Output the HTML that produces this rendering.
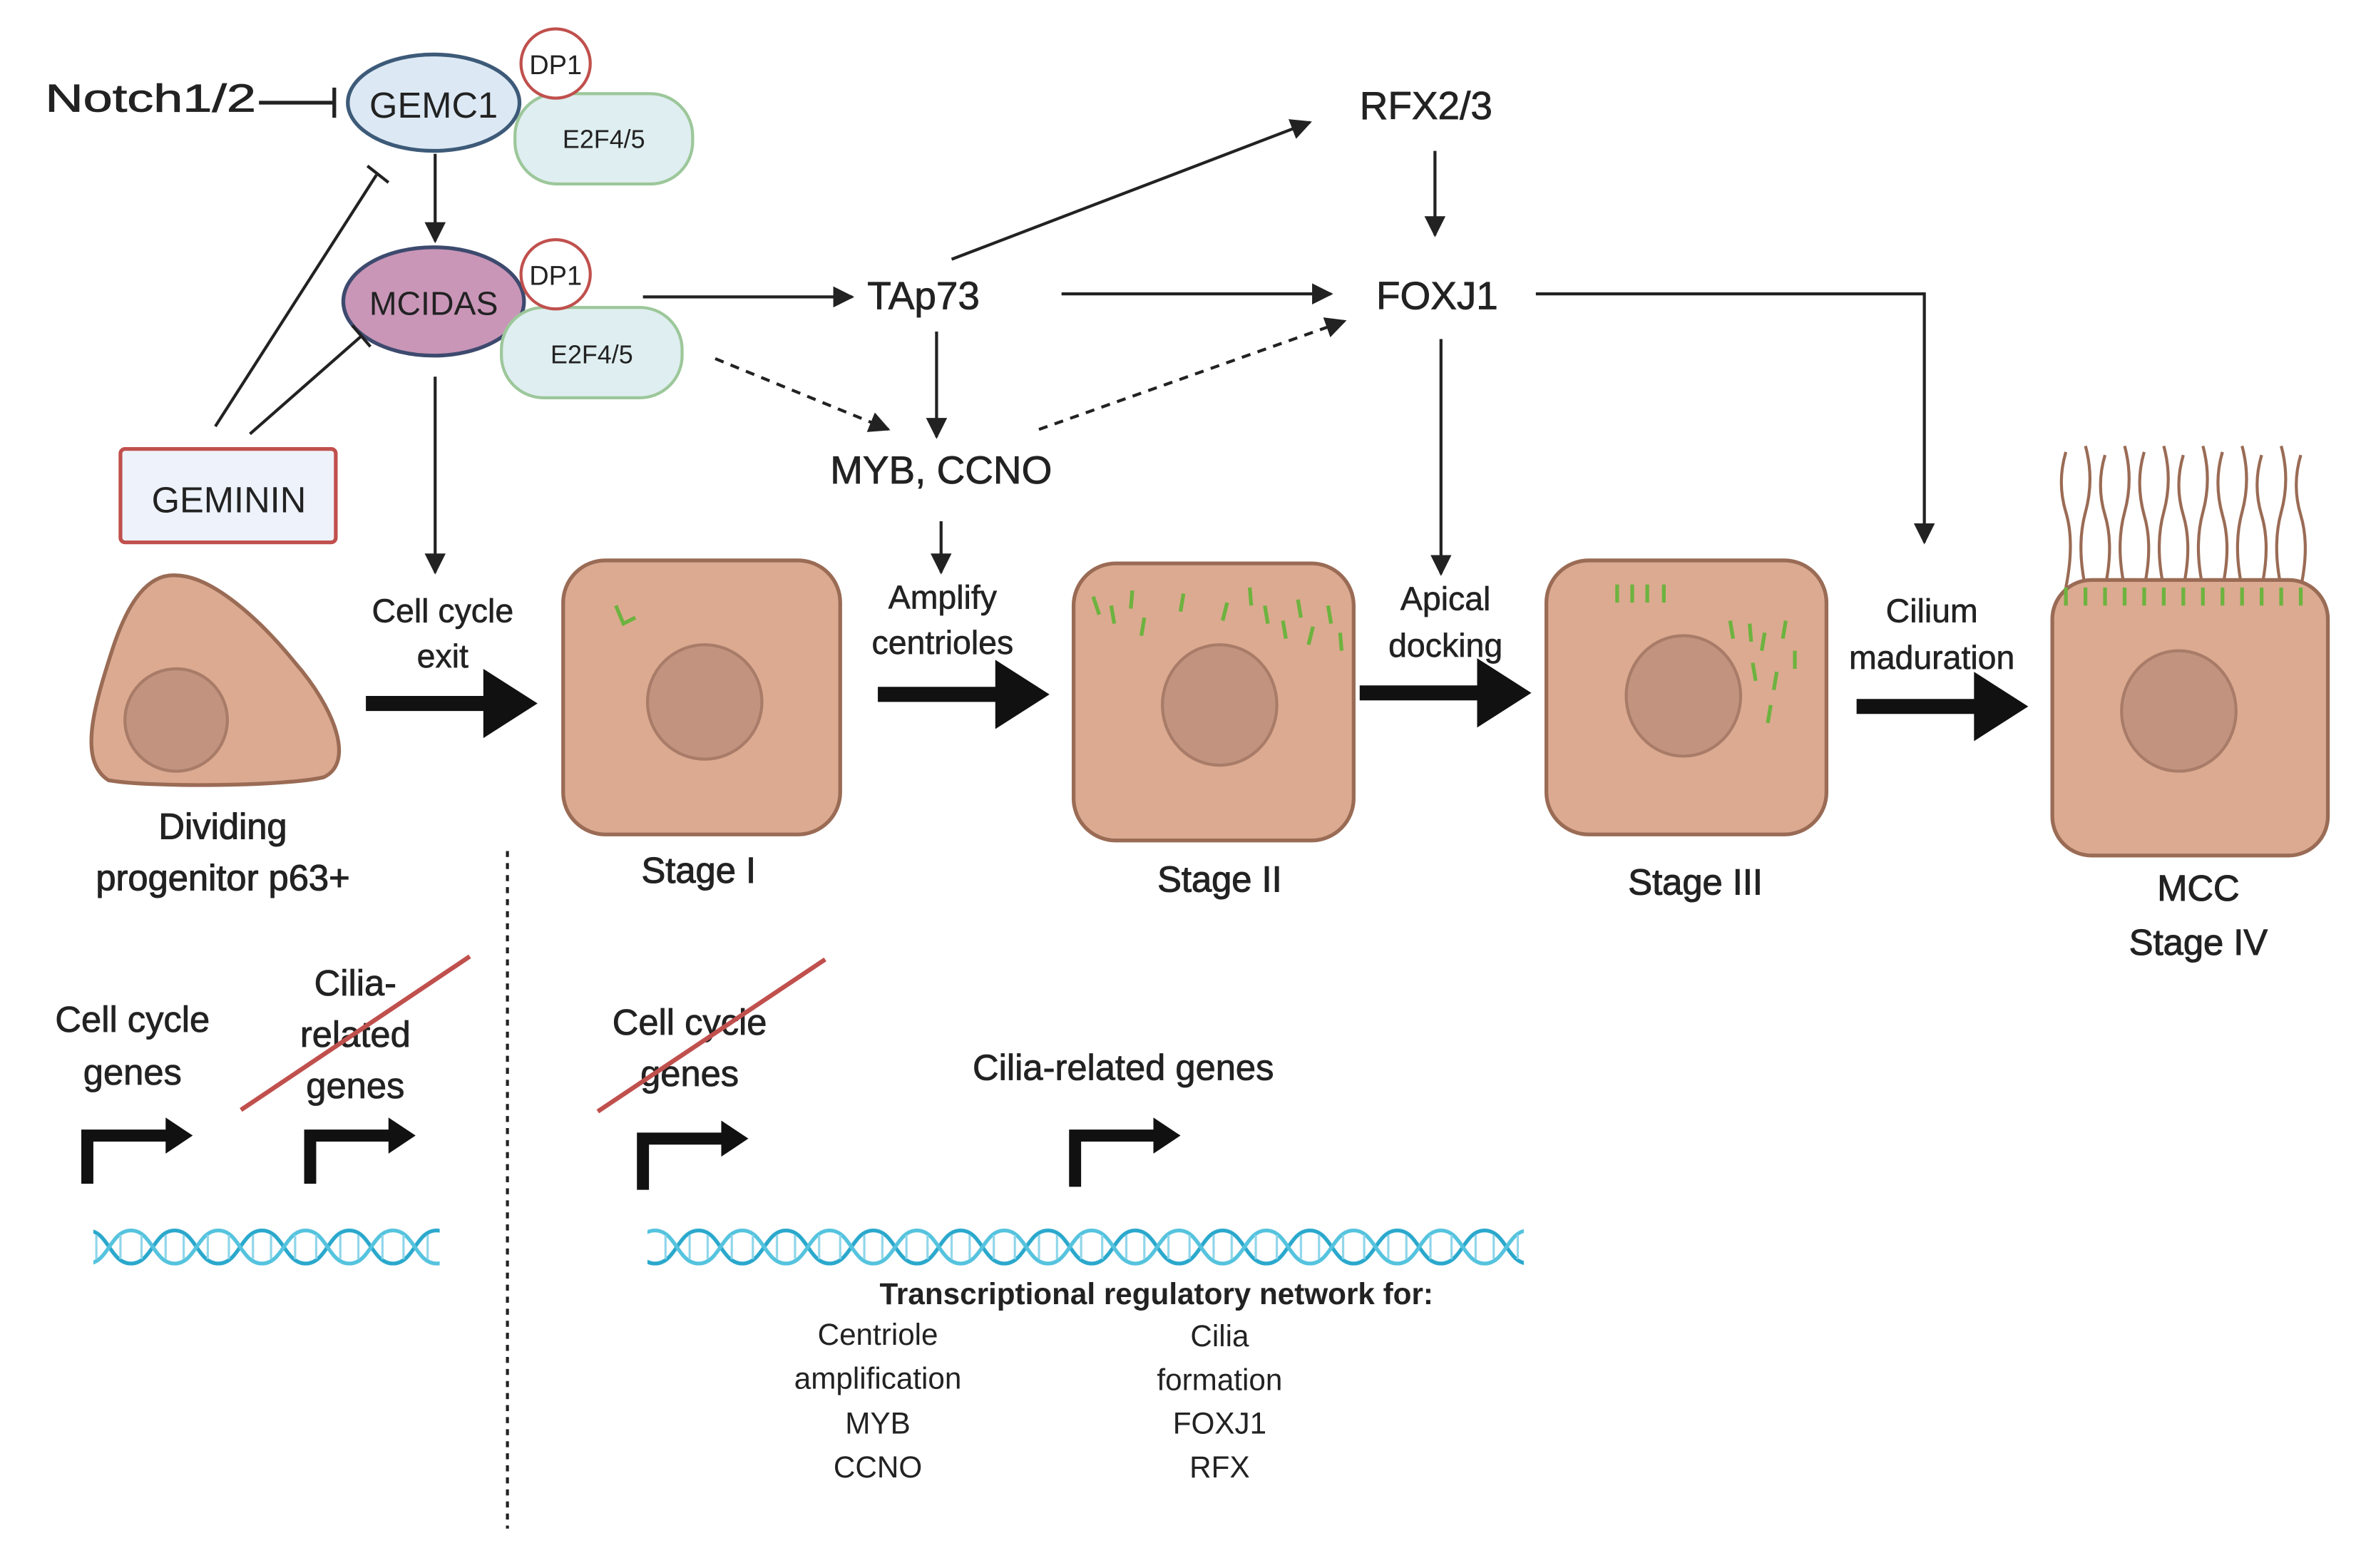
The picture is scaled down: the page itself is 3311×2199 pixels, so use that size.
<!DOCTYPE html>
<html><head><meta charset="utf-8"><style>html,body{margin:0;padding:0;background:#fff}svg{display:block}</style></head>
<body>
<svg width="3311" height="2199" viewBox="0 0 1568 1041" xmlns="http://www.w3.org/2000/svg" font-family="Liberation Sans, sans-serif" fill="#222">
<defs>
<marker id="a" viewBox="0 0 10 10" refX="9" refY="5" markerWidth="7" markerHeight="7" orient="auto"><path d="M0,0L10,5L0,10z" fill="#222"/></marker>
<pattern id="dna" width="58" height="30" patternUnits="userSpaceOnUse" y="813">
<path d="M0,4 C14,4 15,26 29,26 C43,26 44,4 58,4" fill="none" stroke="#2aa8cc" stroke-width="2.5"/>
<path d="M0,26 C14,26 15,4 29,4 C43,4 44,26 58,26" fill="none" stroke="#55c3de" stroke-width="2.5"/>
<g stroke="#8fd6ea" stroke-width="1.5"><line x1="6" y1="7" x2="6" y2="23"/><line x1="22" y1="7" x2="22" y2="23"/><line x1="36" y1="7" x2="36" y2="23"/><line x1="52" y1="7" x2="52" y2="23"/></g>
</pattern>
</defs>
<rect width="1568" height="1041" fill="#fff"/>

<text x="30" y="74" font-size="26" textLength="140" lengthAdjust="spacingAndGlyphs" stroke="#222" stroke-width="0.4">Notch1/2</text>
<line x1="172" y1="68" x2="222" y2="68" stroke="#222" stroke-width="2.5"/>
<line x1="222" y1="58" x2="222" y2="78" stroke="#222" stroke-width="2.5"/>
<ellipse cx="288" cy="68" rx="57" ry="32" fill="#dce9f5" stroke="#3d5a78" stroke-width="2.5"/>
<text x="288" y="78" font-size="24" text-anchor="middle">GEMC1</text>
<rect x="342" y="62" width="118" height="60" rx="28" fill="#dfeef0" stroke="#9cc79a" stroke-width="2"/>
<circle cx="369" cy="42" r="23" fill="#fff" stroke="#c0504d" stroke-width="2"/>
<text x="369" y="49" font-size="18" text-anchor="middle">DP1</text>
<text x="401" y="98" font-size="17" text-anchor="middle">E2F4/5</text>
<line x1="289" y1="102" x2="289" y2="160" stroke="#222" stroke-width="2" marker-end="url(#a)"/>

<ellipse cx="288" cy="200" rx="60" ry="36" fill="#c996b8" stroke="#3d4a6e" stroke-width="2.5"/>
<text x="288" y="209" font-size="22" text-anchor="middle">MCIDAS</text>
<rect x="333" y="204" width="120" height="60" rx="28" fill="#dfeef0" stroke="#9cc79a" stroke-width="2"/>
<circle cx="369" cy="182" r="23" fill="#fff" stroke="#c0504d" stroke-width="2"/>
<text x="369" y="189" font-size="18" text-anchor="middle">DP1</text>
<text x="393" y="241" font-size="17" text-anchor="middle">E2F4/5</text>

<rect x="80" y="298" width="143" height="62" rx="3" fill="#eef2fb" stroke="#c0504d" stroke-width="2.5"/>
<text x="152" y="340" font-size="24" text-anchor="middle">GEMININ</text>
<line x1="143" y1="283" x2="250" y2="116" stroke="#222" stroke-width="2"/>
<line x1="244" y1="110" x2="258" y2="121" stroke="#222" stroke-width="2"/>
<line x1="166" y1="288" x2="240" y2="223" stroke="#222" stroke-width="2"/>
<line x1="234" y1="216" x2="246" y2="230" stroke="#222" stroke-width="2"/>
<line x1="289" y1="250" x2="289" y2="380" stroke="#222" stroke-width="2" marker-end="url(#a)"/>

<line x1="427" y1="197" x2="566" y2="197" stroke="#222" stroke-width="2" marker-end="url(#a)"/>
<text x="576" y="205" font-size="26" stroke="#222" stroke-width="0.4">TAp73</text>
<line x1="705" y1="195" x2="884" y2="195" stroke="#222" stroke-width="2" marker-end="url(#a)"/>
<text x="914" y="205" font-size="26" stroke="#222" stroke-width="0.4">FOXJ1</text>
<line x1="632" y1="172" x2="870" y2="81" stroke="#222" stroke-width="2" marker-end="url(#a)"/>
<text x="903" y="79" font-size="26" stroke="#222" stroke-width="0.4">RFX2/3</text>
<line x1="953" y1="100" x2="953" y2="156" stroke="#222" stroke-width="2" marker-end="url(#a)"/>
<line x1="475" y1="238" x2="590" y2="285" stroke="#222" stroke-width="2" stroke-dasharray="6,5" marker-end="url(#a)"/>
<line x1="690" y1="285" x2="893" y2="213" stroke="#222" stroke-width="2" stroke-dasharray="6,5" marker-end="url(#a)"/>
<line x1="622" y1="220" x2="622" y2="290" stroke="#222" stroke-width="2" marker-end="url(#a)"/>
<text x="625" y="321" font-size="26" text-anchor="middle" stroke="#222" stroke-width="0.4">MYB, CCNO</text>
<polyline points="1020,195 1278,195 1278,360" fill="none" stroke="#222" stroke-width="2" marker-end="url(#a)"/>
<line x1="957" y1="225" x2="957" y2="381" stroke="#222" stroke-width="2" marker-end="url(#a)"/>
<line x1="625" y1="346" x2="625" y2="380" stroke="#222" stroke-width="2" marker-end="url(#a)"/>

<g stroke="#9a6b55" stroke-width="2.5" fill="#dcaa90">
<path d="M118,382 C98,380 85,400 75,430 C62,470 52,505 72,518 C100,523 190,522 215,516 C236,506 222,470 196,440 C170,408 140,383 118,382Z"/>
<rect x="374" y="372" width="184" height="182" rx="28"/>
<rect x="713" y="374" width="186" height="184" rx="28"/>
<rect x="1027" y="372" width="186" height="182" rx="28"/>
</g>
<g fill="none" stroke="#9a6b55" stroke-width="2">
<path d="M1372,300 q-6,20 0,40 q6,20 0,50"/><path d="M1385,296 q6,22 0,44 q-6,22 0,50"/><path d="M1398,302 q-6,20 0,40 q6,20 0,48"/>
<path d="M1411,296 q6,22 0,44 q-6,22 0,50"/><path d="M1424,300 q-6,20 0,42 q6,20 0,48"/><path d="M1437,296 q6,22 0,44 q-6,22 0,50"/>
<path d="M1450,302 q-6,20 0,40 q6,20 0,48"/><path d="M1463,296 q6,22 0,44 q-6,22 0,50"/><path d="M1476,300 q-6,20 0,42 q6,20 0,48"/>
<path d="M1489,296 q6,22 0,44 q-6,22 0,50"/><path d="M1502,302 q-6,20 0,40 q6,20 0,48"/><path d="M1515,296 q6,22 0,44 q-6,22 0,50"/><path d="M1528,302 q-6,20 0,40 q6,20 0,48"/>
</g>
<rect x="1363" y="385" width="183" height="183" rx="26" fill="#dcaa90" stroke="#9a6b55" stroke-width="2.5"/>
<g fill="#c29480" stroke="#a87c68" stroke-width="2">
<circle cx="117" cy="478" r="34"/>
<circle cx="468" cy="466" r="38"/>
<ellipse cx="810" cy="468" rx="38" ry="40"/>
<ellipse cx="1118" cy="462" rx="38" ry="40"/>
<ellipse cx="1447" cy="472" rx="38" ry="40"/>
</g>
<g stroke="#6db33f" stroke-width="2.5">
<path d="M409,402 l5,12 l8,-4" fill="none"/>
<line x1="726" y1="396" x2="730" y2="408"/><line x1="738" y1="402" x2="740" y2="414"/><line x1="752" y1="392" x2="751" y2="404"/><line x1="760" y1="410" x2="758" y2="422"/>
<line x1="786" y1="394" x2="784" y2="406"/><line x1="815" y1="400" x2="812" y2="412"/><line x1="830" y1="390" x2="831" y2="402"/><line x1="840" y1="402" x2="842" y2="414"/>
<line x1="852" y1="412" x2="854" y2="424"/><line x1="862" y1="398" x2="864" y2="410"/><line x1="872" y1="416" x2="869" y2="428"/><line x1="882" y1="402" x2="884" y2="414"/><line x1="890" y1="420" x2="891" y2="432"/>
<line x1="1074" y1="388" x2="1074" y2="400"/><line x1="1084" y1="388" x2="1084" y2="400"/><line x1="1094" y1="388" x2="1094" y2="400"/><line x1="1105" y1="388" x2="1105" y2="400"/>
<line x1="1149" y1="412" x2="1151" y2="424"/><line x1="1162" y1="414" x2="1163" y2="426"/><line x1="1172" y1="420" x2="1170" y2="432"/><line x1="1186" y1="412" x2="1184" y2="424"/>
<line x1="1192" y1="432" x2="1192" y2="444"/><line x1="1164" y1="440" x2="1166" y2="452"/><line x1="1180" y1="446" x2="1178" y2="458"/><line x1="1176" y1="468" x2="1174" y2="480"/>
</g>
<g stroke="#6db33f" stroke-width="2.5">
<line x1="1372" y1="390" x2="1372" y2="402"/><line x1="1385" y1="390" x2="1385" y2="402"/><line x1="1398" y1="390" x2="1398" y2="402"/><line x1="1411" y1="390" x2="1411" y2="402"/><line x1="1424" y1="390" x2="1424" y2="402"/><line x1="1437" y1="390" x2="1437" y2="402"/><line x1="1450" y1="390" x2="1450" y2="402"/><line x1="1463" y1="390" x2="1463" y2="402"/><line x1="1476" y1="390" x2="1476" y2="402"/><line x1="1489" y1="390" x2="1489" y2="402"/><line x1="1502" y1="390" x2="1502" y2="402"/><line x1="1515" y1="390" x2="1515" y2="402"/><line x1="1528" y1="390" x2="1528" y2="402"/>
</g>

<g fill="#111">
<path d="M243,462 h78 v-18 l36,23 l-36,23 v-18 h-78z"/>
<path d="M583,456 h78 v-18 l36,23 l-36,23 v-18 h-78z"/>
<path d="M903,455 h78 v-18 l36,23 l-36,23 v-18 h-78z"/>
<path d="M1233,464 h78 v-18 l36,23 l-36,23 v-18 h-78z"/>
</g>
<g font-size="22" text-anchor="middle" stroke="#222" stroke-width="0.3">
<text x="294" y="413">Cell cycle</text><text x="294" y="443">exit</text>
<text x="626" y="404">Amplify</text><text x="626" y="434">centrioles</text>
<text x="960" y="405">Apical</text><text x="960" y="436">docking</text>
<text x="1283" y="413">Cilium</text><text x="1283" y="444">maduration</text>
</g>
<g font-size="24" text-anchor="middle" stroke="#222" stroke-width="0.5">
<text x="148" y="557">Dividing</text><text x="148" y="591">progenitor p63+</text>
<text x="464" y="586">Stage I</text>
<text x="810" y="592">Stage II</text>
<text x="1126" y="594">Stage III</text>
<text x="1460" y="598">MCC</text><text x="1460" y="634">Stage IV</text>
</g>
<line x1="337" y1="565" x2="337" y2="1015" stroke="#222" stroke-width="2" stroke-dasharray="4,4"/>

<g font-size="24" text-anchor="middle" stroke="#222" stroke-width="0.4">
<text x="88" y="685">Cell cycle</text><text x="88" y="720">genes</text>
<text x="236" y="661">Cilia-</text><text x="236" y="695">related</text><text x="236" y="729">genes</text>
<text x="458" y="687">Cell cycle</text><text x="458" y="721">genes</text>
<text x="746" y="717">Cilia-related genes</text>
</g>
<line x1="160" y1="737" x2="312" y2="635" stroke="#c0504d" stroke-width="3"/>
<line x1="397" y1="738" x2="548" y2="637" stroke="#c0504d" stroke-width="3"/>
<g fill="none" stroke="#111" stroke-width="8">
<polyline points="58,786 58,754 112,754"/>
<polyline points="206,786 206,754 260,754"/>
<polyline points="427,790 427,756 481,756"/>
<polyline points="714,788 714,754 768,754"/>
</g>
<g fill="#111">
<path d="M110,742 l18,12 l-18,12z"/><path d="M258,742 l18,12 l-18,12z"/>
<path d="M479,744 l18,12 l-18,12z"/><path d="M766,742 l18,12 l-18,12z"/>
</g>
<rect x="62" y="813" width="230" height="30" fill="url(#dna)"/>
<rect x="430" y="813" width="582" height="30" fill="url(#dna)"/>
<text x="768" y="866" font-size="20" font-weight="bold" text-anchor="middle">Transcriptional regulatory network for:</text>
<g font-size="20" text-anchor="middle">
<text x="583" y="893">Centriole</text><text x="583" y="922">amplification</text><text x="583" y="952">MYB</text><text x="583" y="981">CCNO</text>
<text x="810" y="894">Cilia</text><text x="810" y="923">formation</text><text x="810" y="952">FOXJ1</text><text x="810" y="981">RFX</text>
</g>
</svg>
</body></html>
